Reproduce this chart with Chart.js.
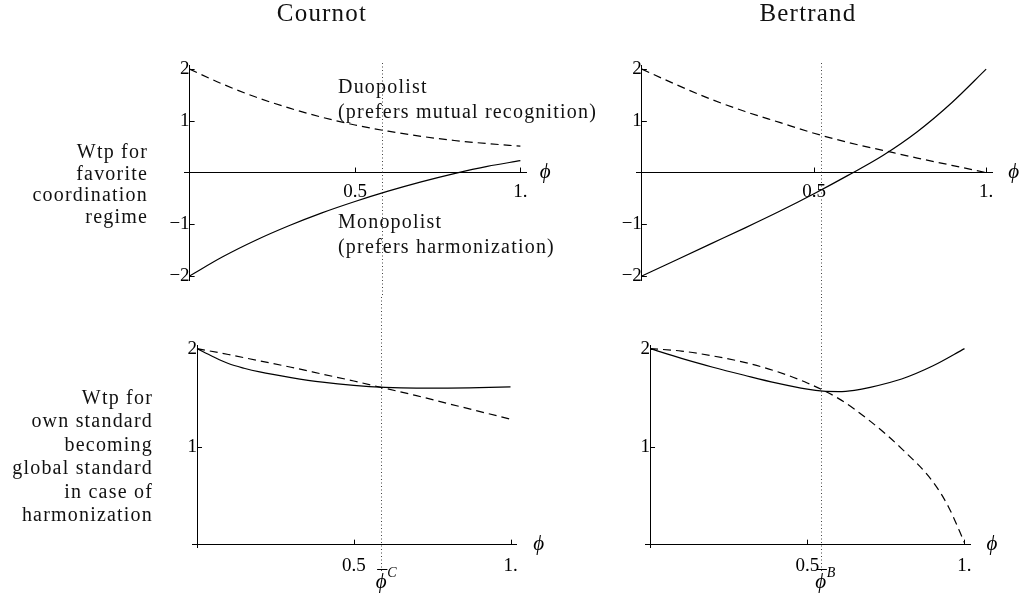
<!DOCTYPE html>
<html>
<head>
<meta charset="utf-8">
<script src="https://cdn.jsdelivr.net/npm/chart.js@4.4.1/dist/chart.umd.min.js"></script>
<style>
  body { margin: 0; background: #fff; }
  #wrap { position: relative; width: 1022px; height: 595px; overflow: hidden;
          font-family: 'Liberation Serif', serif; color: #111; }
  canvas { position: absolute; }
  .t { position: absolute; font-size: 20px; letter-spacing: 1.2px; white-space: nowrap; }
  .title { font-size: 25px; line-height: 28px; top: -1px; width: 200px; text-align: center; }
  .row { text-align: right; left: 0; }
</style>
</head>
<body>
<div id="wrap">
  <canvas id="tl" width="600" height="297" style="left:0;top:0"></canvas>
  <canvas id="tr" width="422" height="297" style="left:600px;top:0"></canvas>
  <canvas id="bl" width="600" height="298" style="left:0;top:297px"></canvas>
  <canvas id="br" width="422" height="298" style="left:600px;top:297px"></canvas>

  <div class="t title" style="left:222px">Cournot</div>
  <div class="t title" style="left:708px">Bertrand</div>

  <div class="t row" style="top:141px;width:148px;line-height:21.6px">Wtp for<br>favorite<br>coordination<br>regime</div>
  <div class="t row" style="top:386px;width:153px;line-height:23.4px">Wtp for<br>own standard<br>becoming<br>global standard<br>in case of<br>harmonization</div>

  <div class="t" style="left:338px;top:74px;line-height:25px">Duopolist<br>(prefers mutual recognition)</div>
  <div class="t" style="left:338px;top:209px;line-height:25px">Monopolist<br>(prefers harmonization)</div>
</div>

<script>
// phi grids
const phi = [0, 0.1, 0.2, 0.3, 0.4, 0.5, 0.6, 0.7, 0.8, 0.9, 1];
const phiCournotLow = [0, 0.05, 0.1, 0.15, 0.2, 0.3, 0.4, 0.5, 0.6, 0.7, 0.8, 0.9, 1];
const phiBertrandLow = [0, 0.1, 0.2, 0.3, 0.4, 0.5, 0.55, 0.6, 0.65, 0.7, 0.8, 0.9, 1];
const phiBertrandEnd = [0, 0.1, 0.2, 0.3, 0.4, 0.5, 0.6, 0.7, 0.8, 0.9, 0.95, 1];

// top row: wtp for favorite coordination regime
const cournotMonoTop = [-2.00, -1.63, -1.31, -1.03, -0.78, -0.56, -0.36, -0.18, -0.02, 0.12, 0.23];
const cournotDuoTop = [2.00, 1.71, 1.46, 1.25, 1.07, 0.92, 0.80, 0.70, 0.62, 0.56, 0.51];
const bertrandMonoTop = [-2.00, -1.69, -1.38, -1.07, -0.75, -0.41, -0.05, 0.33, 0.79, 1.35, 2.00];
const bertrandDuoTop = [2.00, 1.70, 1.42, 1.18, 0.97, 0.76, 0.58, 0.43, 0.28, 0.14, 0.00];

// bottom row: wtp for own standard becoming global standard
const cournotMonoBottom = [2.00, 1.92, 1.848, 1.80, 1.762, 1.705, 1.658, 1.625, 1.605, 1.598, 1.598, 1.602, 1.61];
const cournotDuoBottom = [2.00, 1.94, 1.875, 1.81, 1.74, 1.67, 1.595, 1.52, 1.44, 1.36, 1.28];
const bertrandMonoBottom = [2.00, 1.90, 1.81, 1.728, 1.65, 1.586, 1.566, 1.562, 1.575, 1.605, 1.69, 1.825, 2.00];
const bertrandDuoBottom = [2.00, 1.975, 1.925, 1.86, 1.77, 1.65, 1.49, 1.26, 0.98, 0.64, 0.38, 0.02];

// thresholds (dotted lines) as read in each panel: [top, bottom]
const phiBarC = [0.583, 0.5875];
const phiBarB = [0.52, 0.543];

const xTicks = [0.5, 1];
const yTicksTop = [-2, -1, 1, 2];
const yTicksBottom = [1, 2];

Chart.defaults.font.family = "'Liberation Serif', serif";
Chart.defaults.color = '#000';

const pts = (xs, ys) => xs.map((v, i) => ({x: v, y: ys[i]}));
const fmtX = v => v === 1 ? '1.' : String(v);
const fmtY = v => String(v).replace('-', '\u2212');

const decor = {
  id: 'decor',
  beforeDatasetsDraw(chart, args, o) {
    const ctx = chart.ctx;
    const px = Math.round(chart.scales.x.getPixelForValue(o.mark)) + 0.5;
    ctx.save();
    ctx.strokeStyle = '#444';
    ctx.lineWidth = 1;
    ctx.setLineDash([1, 2.5]);
    ctx.beginPath();
    ctx.moveTo(px, o.lineFrom);
    ctx.lineTo(px, o.lineTo);
    ctx.stroke();
    ctx.restore();
  },
  afterDraw(chart, args, o) {
    const {ctx, scales: {x, y}} = chart;
    const x0 = x.getPixelForValue(0), y0 = y.getPixelForValue(0);
    ctx.save();
    ctx.strokeStyle = '#000';
    ctx.lineWidth = 1;
    ctx.beginPath();
    x.ticks.forEach(t => {
      const px = Math.round(x.getPixelForValue(t.value)) + 0.5;
      ctx.moveTo(px, y0); ctx.lineTo(px, y0 - 5);
    });
    y.ticks.forEach(t => {
      const py = Math.round(y.getPixelForValue(t.value)) + 0.5;
      ctx.moveTo(x0, py); ctx.lineTo(x0 + 5, py);
    });
    ctx.stroke();

    ctx.fillStyle = '#000';
    ctx.font = "italic 21px 'Liberation Serif'";
    ctx.textAlign = 'center';
    ctx.textBaseline = 'middle';
    ctx.fillText('\u03D5', x.getPixelForValue(o.axisLabelAt), y0);

    if (o.markLabel) {
      const mx = x.getPixelForValue(o.mark);
      ctx.textBaseline = 'alphabetic';
      ctx.fillText('\u03D5', mx, o.markLabelY);
      ctx.font = "20px 'Liberation Serif'";
      ctx.fillText('\u00AF', mx + 1, o.markLabelY - 3);
      ctx.font = "italic 14px 'Liberation Serif'";
      ctx.textAlign = 'left';
      ctx.fillText(o.markLabel, mx + 6, o.markLabelY - 11);
    }
    ctx.restore();
  }
};

function panel(id, xs, solid, xsDash, dashed, opt) {
  new Chart(document.getElementById(id), {
    type: 'line',
    data: {
      datasets: [
        { data: pts(xs, solid), borderColor: '#000', borderWidth: 1.2, pointRadius: 0,
          cubicInterpolationMode: 'monotone', fill: false },
        { data: pts(xsDash, dashed), borderColor: '#000', borderWidth: 1.2, borderDash: [8, 5], pointRadius: 0,
          cubicInterpolationMode: 'monotone', fill: false }
      ]
    },
    options: {
      responsive: false,
      animation: false,
      events: [],
      layout: { padding: opt.pad },
      plugins: {
        legend: { display: false },
        tooltip: { enabled: false },
        decor: opt.decor
      },
      scales: {
        x: {
          type: 'linear',
          position: { y: 0 },
          min: opt.xmin, max: opt.xmax,
          afterBuildTicks: s => { s.ticks = xTicks.map(v => ({value: v})); },
          ticks: { callback: fmtX, autoSkip: false, maxRotation: 0, padding: opt.xPad, font: { size: 19 } },
          grid: { display: false, drawTicks: false },
          border: { display: true, color: '#000', width: 1 }
        },
        y: {
          type: 'linear',
          position: { x: 0 },
          min: opt.ymin, max: opt.ymax,
          afterBuildTicks: s => { s.ticks = opt.yTicks.map(v => ({value: v})); },
          ticks: { callback: fmtY, autoSkip: false, padding: 5, font: { size: 19 } },
          grid: { display: false, drawTicks: false },
          border: { display: true, color: '#000', width: 1 }
        }
      }
    },
    plugins: [decor]
  });
}

panel('tl', phi, cournotMonoTop, phi, cournotDuoTop, {
  pad: { left: 184, right: 74, top: 65, bottom: 10 }, xPad: 8,
  xmin: -0.017, xmax: 1.017, ymin: -2.09, ymax: 2.08, yTicks: yTicksTop,
  decor: { mark: phiBarC[0], lineFrom: 63, lineTo: 297, axisLabelAt: 1.075 }
});
panel('tr', phi, bertrandMonoTop, phi, bertrandDuoTop, {
  pad: { left: 36, right: 30, top: 65, bottom: 10 }, xPad: 8,
  xmin: -0.017, xmax: 1.017, ymin: -2.09, ymax: 2.08, yTicks: yTicksTop,
  decor: { mark: phiBarB[0], lineFrom: 63, lineTo: 297, axisLabelAt: 1.08 }
});
panel('bl', phiCournotLow, cournotMonoBottom, phi, cournotDuoBottom, {
  pad: { left: 192, right: 84, top: 48, bottom: 48 }, xPad: 10,
  xmin: -0.016, xmax: 1.0175, ymin: -0.024, ymax: 2.037, yTicks: yTicksBottom,
  decor: { mark: phiBarC[1], lineFrom: 0, lineTo: 276, axisLabelAt: 1.09, markLabel: 'C', markLabelY: 291 }
});
panel('br', phiBertrandLow, bertrandMonoBottom, phiBertrandEnd, bertrandDuoBottom, {
  pad: { left: 45, right: 52, top: 48, bottom: 48 }, xPad: 10,
  xmin: -0.016, xmax: 1.0175, ymin: -0.024, ymax: 2.037, yTicks: yTicksBottom,
  decor: { mark: phiBarB[1], lineFrom: 0, lineTo: 276, axisLabelAt: 1.087, markLabel: 'B', markLabelY: 291 }
});
</script>
</body>
</html>
